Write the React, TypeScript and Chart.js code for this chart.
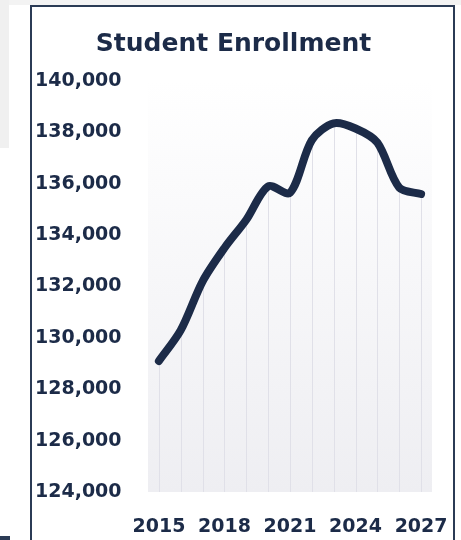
import React, { useEffect, useRef } from "react";
import { Chart, registerables } from "chart.js";

Chart.register(...registerables);

const years = ["2015","2016","2017","2018","2019","2020","2021","2022","2023","2024","2025","2026","2027"];
const enrollment = [129100, 130300, 132200, 133500, 134600, 135900, 135650, 137700, 138350, 138150, 137600, 135850, 135600];
const yTicks = [124000, 126000, 128000, 130000, 132000, 134000, 136000, 138000, 140000];

const NAVY = "#1c2b48";

const areaPlugin = {
  id: "areaBg",
  beforeDatasetsDraw(chart: any) {
    const { ctx, chartArea } = chart;
    const g = ctx.createLinearGradient(0, chartArea.top, 0, chartArea.bottom);
    g.addColorStop(0, "rgba(255,255,255,1)");
    g.addColorStop(1, "rgba(238,238,242,1)");
    ctx.save();
    ctx.fillStyle = g;
    ctx.fillRect(chartArea.left, chartArea.top, chartArea.right - chartArea.left, chartArea.bottom - chartArea.top);
    const meta = chart.getDatasetMeta(0);
    ctx.strokeStyle = "#e0e0e8";
    ctx.lineWidth = 1;
    meta.data.forEach((pt: any) => {
      ctx.beginPath();
      ctx.moveTo(Math.round(pt.x) + 0.5, pt.y);
      ctx.lineTo(Math.round(pt.x) + 0.5, chartArea.bottom);
      ctx.stroke();
    });
    ctx.restore();
  },
};

export default function App() {
  const ref = useRef<HTMLCanvasElement | null>(null);
  useEffect(() => {
    if (!ref.current) return;
    const chart = new Chart(ref.current, {
      type: "line",
      data: {
        labels: years,
        datasets: [
          {
            data: enrollment,
            borderColor: NAVY,
            borderWidth: 8,
            tension: 0.3,
            pointRadius: 0,
            borderCapStyle: "round",
            borderJoinStyle: "round",
            fill: false,
          },
        ],
      },
      options: {
        animation: false,
        responsive: false,
        maintainAspectRatio: false,
        layout: { padding: { left: 3, right: 21, top: 0, bottom: 4 } },
        plugins: {
          legend: { display: false },
          tooltip: { enabled: false },
          title: {
            display: true,
            text: "Student Enrollment",
            color: NAVY,
            font: { family: "DejaVu Sans", size: 25, weight: "bold" },
            padding: { top: 22, bottom: 22 },
          },
        },
        scales: {
          x: {
            offset: true,
            grid: { display: false, drawTicks: false },
            border: { display: false },
            afterFit: (axis: any) => {
              axis.paddingLeft = 0;
              axis.paddingRight = 0;
              axis.height = 44;
            },
            ticks: {
              autoSkip: false,
              maxRotation: 0,
              padding: 24,
              color: NAVY,
              font: { family: "DejaVu Sans", size: 19, weight: "bold" },
              callback: (_v: any, i: number) => (i % 3 === 0 ? years[i] : ""),
            },
          },
          y: {
            min: yTicks[0],
            max: yTicks[yTicks.length - 1],
            grid: { display: false, drawTicks: false },
            border: { display: false },
            afterBuildTicks: (axis: any) => {
              axis.ticks = yTicks.map((v) => ({ value: v }));
            },
            afterFit: (axis: any) => {
              axis.paddingTop = 0;
              axis.paddingBottom = 0;
              axis.width = 113;
            },
            ticks: {
              padding: 0,
              crossAlign: "far",
              color: NAVY,
              font: { family: "DejaVu Sans", size: 19, weight: "bold" },
              callback: (v: any) => Number(v).toLocaleString("en-US"),
            },
          },
        },
      },
      plugins: [areaPlugin],
    });
    return () => chart.destroy();
  }, []);

  return (
    <div style={{ position: "fixed", left: 0, top: 0, width: 461, height: 540, background: "#ffffff", overflow: "hidden" }}>
      <div style={{ position: "absolute", left: 0, top: 0, width: 461, height: 5, background: "#f3f3f3" }} />
      <div style={{ position: "absolute", left: 0, top: 0, width: 9, height: 148, background: "#f0f0f0" }} />
      <div style={{ position: "absolute", left: 0, top: 536, width: 10, height: 4, background: "#2b3b55" }} />
      <div
        style={{
          position: "absolute",
          left: 30,
          top: 5,
          width: 421,
          height: 540,
          borderTop: "2px solid #2b3b55",
          borderLeft: "2px solid #2b3b55",
          borderRight: "2px solid #2b3b55",
          background: "#ffffff",
        }}
      >
        <canvas ref={ref} width={421} height={533} style={{ display: "block", width: 421, height: 533 }} />
      </div>
    </div>
  );
}
